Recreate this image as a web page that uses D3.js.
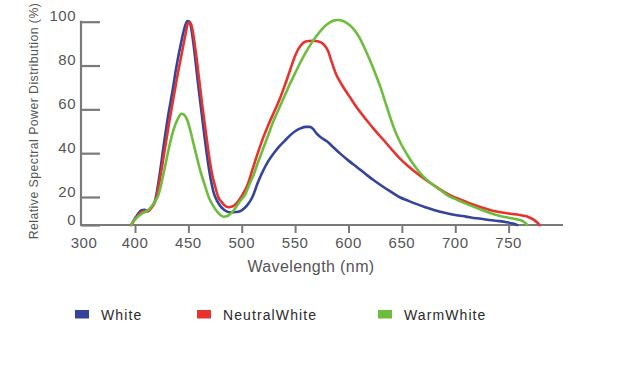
<!DOCTYPE html>
<html><head><meta charset="utf-8">
<script src="https://cdn.jsdelivr.net/npm/d3@7/dist/d3.min.js"></script>
<style>body{margin:0;background:#fff;}svg{display:block;font-family:"Liberation Sans",Arial,sans-serif;}</style>
</head><body><svg id="c" width="643" height="383"></svg>
<script>
const seriesNames = ["White", "NeutralWhite", "WarmWhite"];
const seriesColors = ["#33449a", "#e6332e", "#6cbd3c"];
const xTicks = [300, 400, 450, 500, 550, 600, 650, 700, 750];
const yTicks = [0, 20, 40, 60, 80, 100];

const whiteData = [
 [393,0],[398,3.5],[402,7],[406,10.5],[409,10.8],[412,10],[415,12.5],[419,18],[423,30],[427,44],[431,57],[435,68],[439,80],[443,90],[446,96.5],[449,100.3],[451,100],[453,96],[456,85],[459,72],[462,60],[465,48],[468,37],[471,28],[474,21.5],[477,17],[480,13.5],[484,10.5],[489,9],[495,9.3],[500,10.5],[505,14],[510,20],[515,26.5],[520,32],[525,36.5],[530,40],[535,43],[540,45.5],[545,48],[550,50],[555,51.3],[560,52],[564,52],[567,51],[570,49],[574,47.3],[580,45.3],[586,42.6],[592,39.9],[600,36.6],[608,33.6],[616,30.5],[624,27.5],[632,24.8],[640,22.3],[648,19.8],[656,17.3],[664,14.9],[672,12.7],[680,10.8],[690,8.8],[700,7.2],[710,6],[720,4.8],[730,3.8],[740,2.9],[748,2],[754,1],[758,0]
];
const neutralData = [
 [393,0],[398,3],[402,6],[406,9.2],[409,10],[412,9.6],[415,12],[419,17],[424,30],[428,42],[432,54],[436,65],[440,76],[444,86],[447,93.5],[450,99.5],[452,99.5],[454,96],[457,86],[460,74],[463,62],[466,51],[469,40],[472,31],[475,25],[478,20],[481,16.5],[484,14],[487.5,12.7],[491,13.2],[495,15.5],[500,20.5],[505,25],[510,32.5],[515,40],[520,47],[525,53],[530,58.5],[535,64],[540,70.5],[545,77.5],[550,84.5],[555,89],[560,91],[566,91.3],[572,91],[577,89.5],[581,86.5],[584,82],[588,76.5],[594,71],[601,65.8],[609,60],[617,55],[625,50.3],[633,45.9],[641,41.4],[648,37.6],[656,34],[664,30.8],[672,28],[680,25.3],[688,22.8],[696,20.6],[704,18.4],[712,16],[720,13.8],[728,11.8],[736,10],[744,8.9],[752,8],[760,7.2],[766,6.4],[770,5.2],[774,3.5],[777,1.6],[779,0]
];
const warmData = [
 [393.5,0],[398,3],[402,5.5],[406,8],[410,9.5],[414,11.9],[418,16],[422,21],[426,29],[430,38.3],[433,45],[436,50.5],[440,55.5],[443.5,58],[446,57.5],[449,55],[452,50],[455,44],[458,38],[461,32.3],[465,26],[469,20],[473,14],[477,9.5],[480,7.2],[483,5.9],[486,6.2],[490,8.5],[494,12],[498,16.6],[503,21],[507,25.5],[511,30],[515,35.5],[520,42],[525,48.5],[530,55],[535,60.5],[540,66],[545,71.5],[550,76.5],[555,81.5],[560,86],[565,90],[570,93.5],[575,96.5],[580,98.8],[585,100.3],[590,100.8],[595,100.3],[600,98.8],[605,96.5],[610,93],[615,88],[620,82.5],[625,76.5],[630,70],[635,62.5],[640,55],[645,48.5],[650,43.5],[655,39.3],[660,35.5],[665,32.2],[670,29.4],[678,26],[686,23.2],[694,20.4],[702,17.9],[710,15.3],[718,12.8],[726,10.4],[734,8.2],[742,6.5],[750,5.2],[757,4.2],[762,3.2],[765,1.8],[767.5,0]
];
const dataSets = [whiteData, neutralData, warmData];

const svg = d3.select("#c");
// Axes in the original are broken: 300 sits at the origin, and 0 sits just under 20.
const x = d3.scaleLinear().domain([300, 400, 800]).range([81, 135, 562]);
const y = d3.scaleLinear().domain([0, 20, 100]).range([225, 197, 21.7]);

const axisColor = "#7a7a7a";
const textColor = "#555";

// Y axis
const yAxis = d3.axisRight(y).tickValues(yTicks).tickSize(19).tickFormat("");
const gy = svg.append("g").attr("transform", "translate(81,0)").call(yAxis);
gy.select(".domain").remove();
gy.selectAll(".tick line").attr("stroke", axisColor).attr("stroke-width", 2.2);
svg.append("line").attr("x1", 81).attr("x2", 81).attr("y1", y(100) - 1).attr("y2", y(0))
  .attr("stroke", axisColor).attr("stroke-width", 2.2);
svg.append("g").selectAll("text").data(yTicks).join("text")
  .attr("x", 76).attr("y", d => y(d) - 0.5).attr("text-anchor", "end")
  .attr("font-size", 15).attr("fill", textColor).attr("letter-spacing", 0.5).text(d => d);

// X axis
const xAxis = d3.axisBottom(x).tickValues(xTicks.filter(d => d !== 300)).tickSize(8).tickFormat("");
const gx = svg.append("g").attr("transform", `translate(0,${y(0)})`).call(xAxis);
gx.select(".domain").remove();
gx.selectAll(".tick line").attr("stroke", axisColor).attr("stroke-width", 2);
svg.append("line").attr("x1", 80).attr("x2", 563).attr("y1", y(0)).attr("y2", y(0))
  .attr("stroke", axisColor).attr("stroke-width", 2.2);
svg.append("g").selectAll("text").data(xTicks).join("text")
  .attr("x", d => d === 300 ? 84 : x(d)).attr("y", 248).attr("text-anchor", "middle")
  .attr("font-size", 15).attr("fill", textColor).attr("letter-spacing", 0.5).text(d => d);

// Axis titles
svg.append("text").attr("x", 311).attr("y", 272).attr("text-anchor", "middle")
  .attr("font-size", 16).attr("fill", textColor).attr("letter-spacing", 0.4).text("Wavelength (nm)");
svg.append("text").attr("transform", "translate(38,121) rotate(-90)").attr("text-anchor", "middle")
  .attr("font-size", 12.3).attr("fill", textColor).attr("letter-spacing", 0.45)
  .text("Relative Spectral Power Distribution (%)");

// Lines
const line = d3.line().x(d => x(d[0])).y(d => y(d[1])).curve(d3.curveMonotoneX);
svg.append("g").selectAll("path").data(dataSets).join("path")
  .attr("d", line).attr("fill", "none")
  .attr("stroke", (d, i) => seriesColors[i]).attr("stroke-width", 2.6)
  .attr("stroke-linejoin", "round").attr("stroke-linecap", "round");

// Legend
const legendX = [75, 197, 378];
const lg = svg.append("g").selectAll("g").data(seriesNames).join("g")
  .attr("transform", (d, i) => `translate(${legendX[i]},310)`);
lg.append("rect").attr("width", 14).attr("height", 8.5).attr("fill", (d, i) => seriesColors[i]);
lg.append("text").attr("x", 26).attr("y", 9.5).attr("font-size", 14).attr("fill", "#2a2a2a")
  .attr("letter-spacing", 1.1).text(d => d);
</script></body></html>
